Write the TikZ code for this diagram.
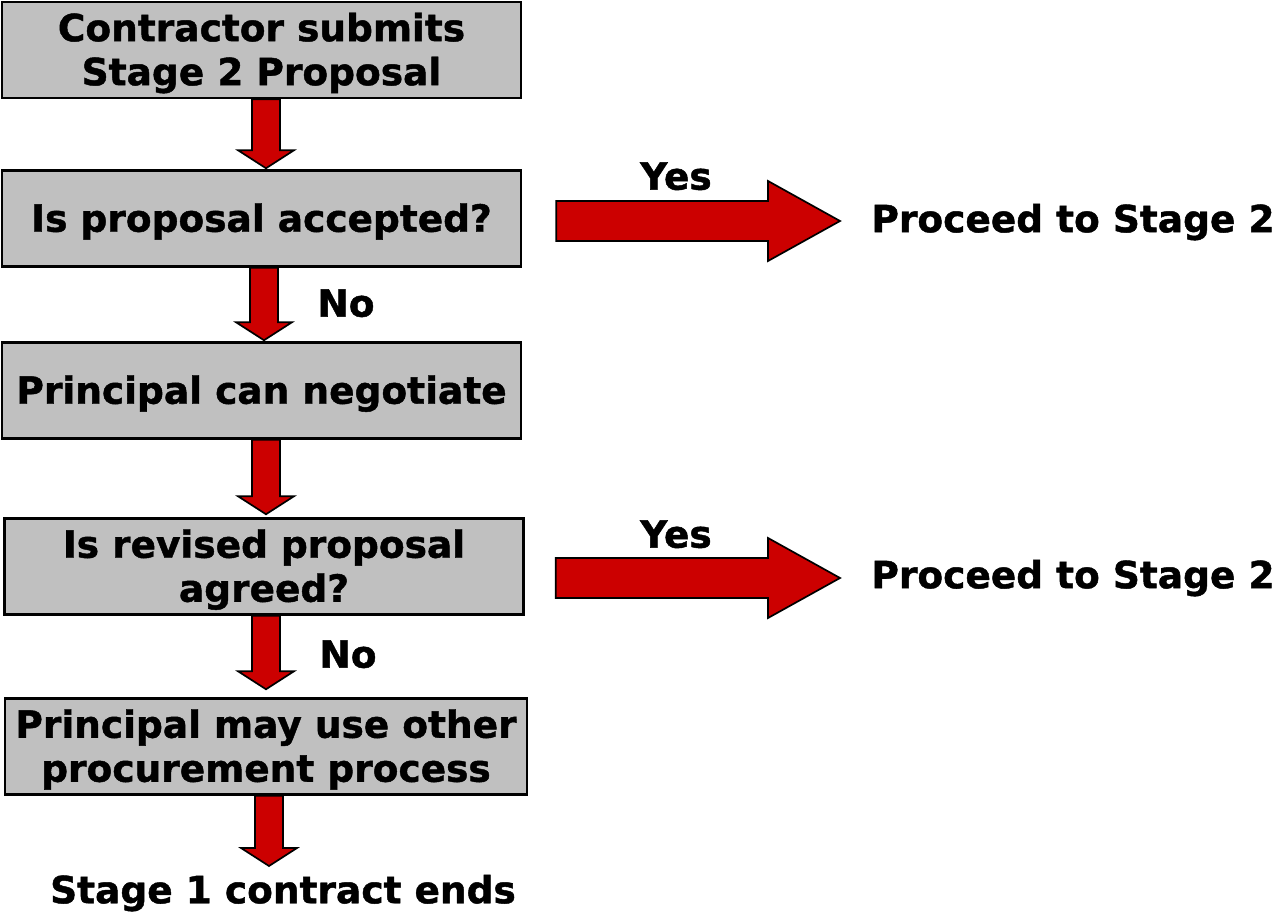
\documentclass[tikz,border=0pt]{standalone}
\usepackage{fontspec}
\setmainfont{DejaVu Sans}[BoldFeatures={FakeBold=1.2}]
\usetikzlibrary{calc}
\definecolor{boxgray}{HTML}{C0C0C0}
\definecolor{arrowred}{HTML}{CC0000}

% block arrow pointing down, from coordinate #1 to coordinate #2
\newcommand\blockdown[2]{%
  \filldraw[blockarrow] let \p1=(#1), \p2=(#2) in
    (\x1-14pt,\y1) -- (\x1+14pt,\y1) -- (\x1+14pt,\y2+18pt) -- (\x1+28pt,\y2+18pt)
    -- (\x1,\y2) -- (\x1-28pt,\y2+18pt) -- (\x1-14pt,\y2+18pt) -- cycle;}
% block arrow pointing right, from coordinate #1 to coordinate #2
\newcommand\blockright[2]{%
  \filldraw[blockarrow] let \p1=(#1), \p2=(#2) in
    (\x1,\y1+20pt) -- (\x2-72pt,\y1+20pt) -- (\x2-72pt,\y1+40pt) -- (\x2,\y1)
    -- (\x2-72pt,\y1-40pt) -- (\x2-72pt,\y1-20pt) -- (\x1,\y1-20pt) -- cycle;}

\begin{document}
\begin{tikzpicture}[x=1pt,y=-1pt,
  font=\fontsize{37.5}{44}\selectfont\bfseries,
  stepbox/.style={draw=black, line width=2.5pt, fill=boxgray, minimum width=519pt,
    minimum height=96pt, align=center, inner sep=0pt, text depth=2pt},
  blockarrow/.style={fill=arrowred, draw=black, line width=1.7pt, line join=miter},
  label/.style={inner sep=0pt, anchor=center, text depth=2pt}]
\useasboundingbox (0,0) rectangle (1274,912);

% process boxes
\node[stepbox] (b1) at (261.5,50) {Contractor submits\\Stage 2 Proposal};
\node[stepbox] (b2) at (261.5,218.5) {Is proposal accepted?};
\node[stepbox] (b3) at (261.5,390.5) {Principal can negotiate};
\node[stepbox] (b4) at (264,566.5) {Is revised proposal\\agreed?};
\node[stepbox, minimum width=522pt] (b5) at (266,746.5) {Principal may use other\\procurement process};

% outcomes and labels
\node[label] (p1) at (1073,219) {Proceed to Stage 2};
\node[label] (p2) at (1073,575) {Proceed to Stage 2};
\node[label] (end) at (283,890) {Stage 1 contract ends};
\node[label] (y1) at (676,177) {Yes};
\node[label] (y2) at (676,535) {Yes};
\node[label] (n1) at (346,304) {No};
\node[label] (n2) at (348,655) {No};

% connectors
\coordinate (a1s) at ($(b1.south)+(4.5,0)$);
\coordinate (a1e) at ($(b2.north)+(4.5,-1)$);
\coordinate (a2s) at ($(b2.south)+(2.5,0)$);
\coordinate (a2e) at ($(b3.north)+(2.5,-1)$);
\coordinate (a3s) at ($(b3.south)+(4.5,0)$);
\coordinate (a3e) at ($(b4.north)+(2,-3)$);
\coordinate (a4s) at ($(b4.south)+(2,0)$);
\coordinate (a4e) at ($(b5.north)+(-1,-8)$);
\coordinate (a5s) at ($(b5.south)+(3,0)$);
\coordinate (a5e) at (269,866);
\blockdown{a1s}{a1e}
\blockdown{a2s}{a2e}
\blockdown{a3s}{a3e}
\blockdown{a4s}{a4e}
\blockdown{a5s}{a5e}

\coordinate (h1s) at ($(b2.east)+(34,2.5)$);
\coordinate (h1e) at (840,221);
\coordinate (h2s) at ($(b4.east)+(31,11.5)$);
\coordinate (h2e) at (840,578);
\blockright{h1s}{h1e}
\blockright{h2s}{h2e}
\end{tikzpicture}
\end{document}
